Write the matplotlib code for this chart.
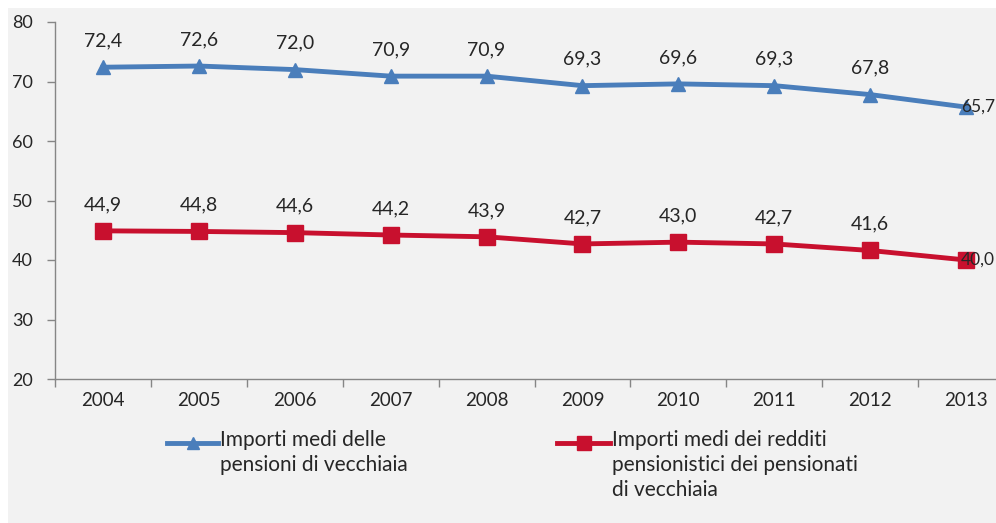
import matplotlib
matplotlib.use('Agg')
import matplotlib.pyplot as plt
from matplotlib.lines import Line2D
from matplotlib.patches import Rectangle

plt.rcParams['font.family'] = ['Lato', 'DejaVu Sans']

anni = ['2004', '2005', '2006', '2007', '2008', '2009', '2010', '2011', '2012', '2013']
pensioni = [72.4, 72.6, 72.0, 70.9, 70.9, 69.3, 69.6, 69.3, 67.8, 65.7]
redditi = [44.9, 44.8, 44.6, 44.2, 43.9, 42.7, 43.0, 42.7, 41.6, 40.0]
label_blu = 'Importi medi delle\npensioni di vecchiaia'
label_rosso = 'Importi medi dei redditi\npensionistici dei pensionati\ndi vecchiaia'

blu = '#4a7ebb'
rosso = '#c8102e'
testo = '#262626'
bg = '#f2f2f2'

fig = plt.figure(figsize=(9.96, 5.23), dpi=100)
fig.patch.set_facecolor('white')
fig.add_artist(Rectangle((8/996, 0), 1, 1 - 8/523, transform=fig.transFigure,
                         facecolor=bg, edgecolor='none', zorder=-10))

ax = fig.add_axes([55/996, 1 - 379/523, 959/996, (379 - 22)/523])
ax.set_facecolor('none')

x = list(range(len(anni)))
ax.plot(x, pensioni, color=blu, lw=3.5, marker='^', ms=10, clip_on=False, zorder=3)
ax.plot(x, redditi, color=rosso, lw=3.5, marker='s', ms=11, clip_on=False, zorder=3)

def fmt(v):
    return f'{v:.1f}'.replace('.', ',')

for serie in (pensioni, redditi):
    for i, v in enumerate(serie):
        if i == len(serie) - 1:
            # ultimo valore a destra del punto, come nell'originale
            ax.annotate(fmt(v), (i, v), xytext=(-3.5, 0), textcoords='offset points',
                        ha='left', va='center', fontsize=12.5, color=testo, zorder=4)
        else:
            ax.annotate(fmt(v), (i, v), xytext=(0, 19), textcoords='offset points',
                        ha='center', va='center', fontsize=14, color=testo)

ax.set_xlim(-0.5, len(anni) - 0.5)
ax.set_ylim(20, 80)
ax.set_yticks(range(20, 81, 10))
ax.set_xticks(x)
ax.set_xticklabels(anni)
ax.set_xticks([i + 0.5 for i in range(-1, len(anni))], minor=True)
ax.tick_params(axis='x', which='major', length=0, pad=9, labelsize=13.5, labelcolor=testo)
ax.tick_params(axis='x', which='minor', length=6, color='#868686', width=1)
ax.tick_params(axis='y', length=6, color='#868686', width=1, labelsize=13, labelcolor=testo, pad=10)
for s in ['top', 'right']:
    ax.spines[s].set_visible(False)
for s in ['left', 'bottom']:
    ax.spines[s].set_color('#868686')
    ax.spines[s].set_linewidth(1)

# legenda
def voce(x0, x1, y, colore, marker, ms, testo_leg):
    fig.add_artist(Line2D([x0/996, x1/996], [1 - y/523] * 2, transform=fig.transFigure,
                          color=colore, lw=3.5))
    fig.add_artist(Line2D([(x0 + x1)/2/996], [1 - y/523], transform=fig.transFigure,
                          color=colore, marker=marker, ms=ms, lw=0))
    fig.text((x1 + 2)/996, 1 - (y - 13)/523, testo_leg, ha='left', va='top',
             fontsize=15, color=testo, linespacing=1.3)

voce(167, 218, 443, blu, '^', 9, label_blu)
voce(557, 610, 443, rosso, 's', 10, label_rosso)

fig.savefig('out.png', dpi=100, facecolor=fig.get_facecolor())
